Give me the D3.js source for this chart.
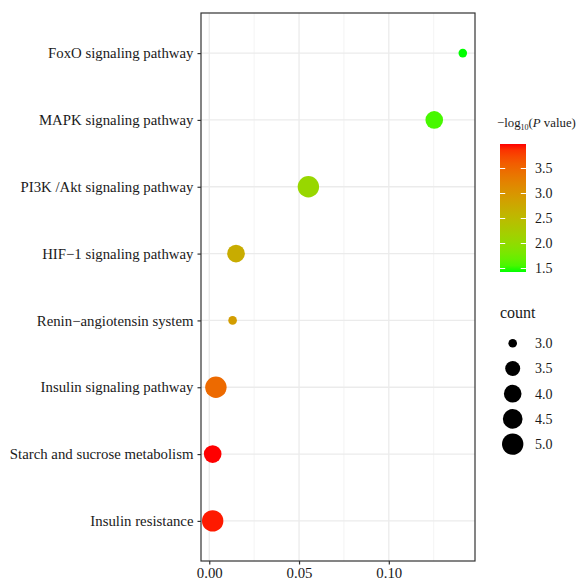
<!DOCTYPE html>
<html>
<head>
<meta charset="utf-8">
<script src="https://cdn.jsdelivr.net/npm/d3@7"></script>
<style>
  html, body { margin: 0; padding: 0; background: #fff; }
  svg text { font-family: "Liberation Serif", "DejaVu Serif", serif; fill: #1a1a1a; }
</style>
</head>
<body>
<svg id="chart" width="577" height="580"></svg>
<script>
// KEGG pathway enrichment: rich factor (x), -log10(P value) (colour), gene count (size)
const pathways = [
  "FoxO signaling pathway",
  "MAPK signaling pathway",
  "PI3K /Akt signaling pathway",
  "HIF\u22121 signaling pathway",
  "Renin\u2212angiotensin system",
  "Insulin signaling pathway",
  "Starch and sucrose metabolism",
  "Insulin resistance"
];
const richFactor = [0.1412, 0.1253, 0.0552, 0.0149, 0.0130, 0.0037, 0.0019, 0.0019];
const negLogP   = [1.43, 1.55, 2.07, 2.71, 2.90, 3.48, 3.99, 3.95];
const geneCount = [3, 4, 5, 4, 3, 5, 4, 5];

const xTicks = [0.00, 0.05, 0.10];
const colorTicks = [1.5, 2.0, 2.5, 3.0, 3.5];
const countTicks = [3.0, 3.5, 4.0, 4.5, 5.0];

const serif = '"Liberation Serif", "DejaVu Serif", serif';
const svg = d3.select("#chart");

const panel = { left: 201, right: 475, top: 13, bottom: 561 };

const x = d3.scaleLinear()
  .domain([-0.0046, 0.148])
  .range([panel.left, panel.right]);

const y = d3.scalePoint()
  .domain(pathways)
  .range([panel.top, panel.bottom])
  .padding(0.6);

const pMin = d3.min(negLogP), pMax = d3.max(negLogP);
const color = d3.scaleSequential(d3.interpolateLab("#00ff00", "#ff0000"))
  .domain([pMin, pMax]);

// radius grows with the square root of (count - 3)
const radius = d3.scaleSqrt().domain([0, 2]).range([4.3, 10.7]);
const r = c => radius(c - 3);

// panel background & grid
const grid = svg.append("g");
grid.append("rect")
  .attr("x", panel.left).attr("y", panel.top)
  .attr("width", panel.right - panel.left)
  .attr("height", panel.bottom - panel.top)
  .attr("fill", "#fff");

const minorX = [-0.025, 0.025, 0.075, 0.125].filter(v => x(v) > panel.left && x(v) < panel.right);
grid.selectAll("line.minor").data(minorX).join("line")
  .attr("x1", d => x(d)).attr("x2", d => x(d))
  .attr("y1", panel.top).attr("y2", panel.bottom)
  .attr("stroke", "#f0f0f0").attr("stroke-width", 0.8);

grid.selectAll("line.majx").data(xTicks).join("line")
  .attr("x1", d => x(d)).attr("x2", d => x(d))
  .attr("y1", panel.top).attr("y2", panel.bottom)
  .attr("stroke", "#ebebeb").attr("stroke-width", 1.3);

grid.selectAll("line.majy").data(pathways).join("line")
  .attr("x1", panel.left).attr("x2", panel.right)
  .attr("y1", d => y(d)).attr("y2", d => y(d))
  .attr("stroke", "#ebebeb").attr("stroke-width", 1.3);

// points
const rows = pathways.map((p, i) => ({ p, x: richFactor[i], v: negLogP[i], n: geneCount[i] }));
svg.append("g").selectAll("circle").data(rows).join("circle")
  .attr("cx", d => x(d.x))
  .attr("cy", d => y(d.p))
  .attr("r", d => r(d.n))
  .attr("fill", d => color(d.v));

// panel border
svg.append("rect")
  .attr("x", panel.left).attr("y", panel.top)
  .attr("width", panel.right - panel.left)
  .attr("height", panel.bottom - panel.top)
  .attr("fill", "none").attr("stroke", "#333").attr("stroke-width", 1.2);

// axes
const xAxis = svg.append("g")
  .attr("transform", `translate(0,${panel.bottom})`)
  .call(d3.axisBottom(x).tickValues(xTicks).tickFormat(d3.format(".2f")).tickSize(3.5).tickPadding(3));
xAxis.attr("font-family", serif);
xAxis.select(".domain").remove();
xAxis.selectAll(".tick line").attr("stroke", "#333").attr("stroke-width", 1.2);
xAxis.selectAll(".tick text").attr("font-size", 14.8).attr("fill", "#1a1a1a")
  .style("font-family", serif);

const yAxis = svg.append("g")
  .attr("transform", `translate(${panel.left},0)`)
  .call(d3.axisLeft(y).tickSize(3.5).tickPadding(4));
yAxis.attr("font-family", serif);
yAxis.select(".domain").remove();
yAxis.selectAll(".tick line").attr("stroke", "#333").attr("stroke-width", 1.2);
yAxis.selectAll(".tick text").attr("font-size", 14.8).attr("fill", "#1a1a1a")
  .style("font-family", serif);

// colour legend
const cbar = { x: 500, y: 144, w: 26, h: 128 };
const title = svg.append("text").attr("x", 497).attr("y", 127).attr("font-size", 12.8);
title.append("tspan").text("\u2212log");
title.append("tspan").attr("font-size", 8).attr("dy", 3).text("10");
title.append("tspan").attr("dy", -3).text("(");
title.append("tspan").attr("font-style", "italic").text("P");
title.append("tspan").text(" value)");

const defs = svg.append("defs");
const grad = defs.append("linearGradient").attr("id", "pgrad")
  .attr("x1", 0).attr("y1", 1).attr("x2", 0).attr("y2", 0);
d3.range(0, 1.0001, 0.05).forEach(t => {
  grad.append("stop").attr("offset", t).attr("stop-color", color(pMin + t * (pMax - pMin)));
});
svg.append("rect")
  .attr("x", cbar.x).attr("y", cbar.y).attr("width", cbar.w).attr("height", cbar.h)
  .attr("fill", "url(#pgrad)");

const cy = d3.scaleLinear().domain([pMin, pMax]).range([cbar.y + cbar.h, cbar.y]);
const cticks = svg.append("g");
colorTicks.forEach(v => {
  const yy = cy(v);
  cticks.append("line").attr("x1", cbar.x).attr("x2", cbar.x + 5.2)
    .attr("y1", yy).attr("y2", yy).attr("stroke", "#fff").attr("stroke-width", 1);
  cticks.append("line").attr("x1", cbar.x + cbar.w - 5.2).attr("x2", cbar.x + cbar.w)
    .attr("y1", yy).attr("y2", yy).attr("stroke", "#fff").attr("stroke-width", 1);
  cticks.append("text").attr("x", 535).attr("y", yy).attr("dy", "0.35em")
    .attr("font-size", 14).text(d3.format(".1f")(v));
});

// size legend
svg.append("text").attr("x", 500).attr("y", 318).attr("font-size", 16).text("count");
const sizeLeg = svg.append("g");
countTicks.forEach((c, i) => {
  const yy = 343.3 + i * 25.2;
  sizeLeg.append("circle").attr("cx", 512.7).attr("cy", yy).attr("r", r(c)).attr("fill", "#000");
  sizeLeg.append("text").attr("x", 535).attr("y", yy).attr("dy", "0.35em")
    .attr("font-size", 14).text(d3.format(".1f")(c));
});
</script>
</body>
</html>
